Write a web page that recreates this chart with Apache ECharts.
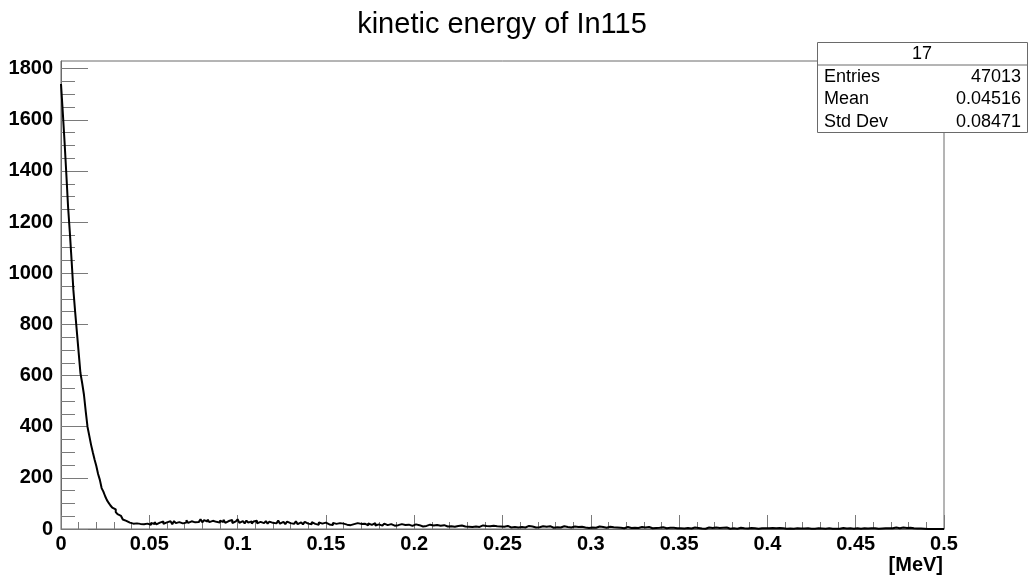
<!DOCTYPE html>
<html>
<head>
<meta charset="utf-8">
<script src="https://cdn.jsdelivr.net/npm/echarts@6/dist/echarts.min.js"></script>
<style>
html,body{margin:0;padding:0;background:#fff;}
#chart{width:1035px;height:581px;}
</style>
</head>
<body>
<div id="chart"></div>
<script>
const chartTitle = "kinetic energy of In115";
const xAxisTitle = "[MeV]";
const xMin = 0, xMax = 0.5, binWidth = 0.001;
const yMin = 0, yMax = 1830;
const yMajorTicks = [0, 200, 400, 600, 800, 1000, 1200, 1400, 1600, 1800];
const yMinorTicks = [50,100,150,250,300,350,450,500,550,650,700,750,850,900,950,1050,1100,1150,1250,1300,1350,1450,1500,1550,1650,1700,1750];
const statsTitle = "17";
const statsLabels = ["Entries", "Mean", "Std Dev"];
const statsValues = ["47013", "0.04516", "0.08471"];

// bin contents, 500 bins of width 0.001 MeV starting at 0
const counts = [
1740,1630,1515,1390,1260,1160,1050,935,850,770,
690,610,570,525,460,400,365,330,300,272,
246,215,192,160,146,128,113,102,92,84,
77,66,58,51,44,37,32,28,25,23,
21,18,22,17,20,15,19,16,21,17,
16,24,19,27,18,25,21,29,20,26,
22,30,24,19,31,23,27,33,22,28,
25,34,24,30,36,26,33,27,31,38,
26,35,29,37,27,32,39,28,34,25,
33,27,36,24,31,28,35,23,30,26,
38,24,31,27,22,33,25,30,21,29,
32,22,28,34,23,27,31,21,29,24,
30,22,26,33,21,28,24,19,29,23,
27,20,25,30,19,26,22,18,28,21,
24,19,27,20,23,17,26,21,18,25,
29,18,22,16,24,20,17,23,19,21,
25,17,20,15,22,19,16,23,18,20,
15,21,18,14,22,16,19,23,14,18,
20,13,17,21,15,12,19,16,13,18,
15,12,19,14,16,11,17,14,12,16,
18,11,15,13,10,16,12,14,17,10,
14,11,16,10,13,9,15,12,10,14,
11,15,9,13,12,8,14,11,10,15,
9,12,8,14,10,12,8,11,14,9,
12,8,11,7,13,9,11,7,10,13,
9,7,12,10,6,11,8,10,6,12,
8,10,6,9,12,7,10,8,6,11,
7,9,11,6,9,7,11,8,5,9,
7,10,6,8,11,5,8,10,6,8,
10,6,8,4,9,7,6,9,4,10,
6,8,5,7,10,4,8,6,5,8,
9,5,7,4,6,9,5,7,3,6,
8,5,4,7,5,9,4,6,8,4,
6,4,8,5,3,7,4,7,5,3,
7,4,3,6,5,2,5,7,3,5,
3,6,2,5,4,7,2,4,6,3,
4,6,2,4,1,5,6,2,4,3,
6,2,4,1,5,3,6,2,1,4,
3,5,1,3,5,1,3,4,2,1,
4,1,3,4,1,5,3,1,3,2,
3,1,4,2,3,1,4,1,3,2,
1,3,2,4,1,2,3,1,2,4,
2,1,3,2,1,4,1,2,3,1,
2,4,1,1,3,2,1,3,1,3,
1,2,4,1,2,1,3,2,1,2,
3,1,1,2,3,4,2,1,3,2,
3,2,1,3,2,4,3,2,3,5,
3,4,6,4,3,5,6,5,4,6,
5,4,3,4,2,3,2,1,1,0,
0,0,0,0,0,0,0,0,0,0
];

const points = counts.map((c, i) => [+(xMin + i * binWidth).toFixed(4), c]);
points.push([xMax, counts[counts.length - 1]]);

const FONT = "Liberation Sans";
const frameColor = "#6a6a6a";
const tickColor = "#7a7a7a";

const chart = echarts.init(document.getElementById('chart'), null, {renderer: 'canvas'});

const boxL = 817, boxR = 1027, boxT = 42, rowH = 22.5;
const graphics = [
  {type:'rect', shape:{x:boxL+0.5, y:boxT+0.5, width:boxR-boxL, height:rowH*4}, style:{fill:'#fff', stroke:frameColor, lineWidth:1}, z:100},
  {type:'line', shape:{x1:boxL, y1:boxT+rowH+0.5, x2:boxR, y2:boxT+rowH+0.5}, style:{stroke:frameColor, lineWidth:1}, z:101},
  {type:'text', x:(boxL+boxR)/2, y:boxT+rowH/2+1, style:{text:statsTitle, font:'18px "'+FONT+'"', fill:'#000', align:'center', verticalAlign:'middle'}, z:102},
  {type:'text', x:943, y:555, style:{text:xAxisTitle, font:'bold 20px "'+FONT+'"', fill:'#000', align:'right', verticalAlign:'top'}, z:102}
];
statsLabels.forEach((lab, i) => {
  const cy = boxT + rowH * (i + 1) + rowH / 2 + 1;
  graphics.push({type:'text', x:boxL+7, y:cy, style:{text:lab, font:'18px "'+FONT+'"', fill:'#000', align:'left', verticalAlign:'middle'}, z:102});
  graphics.push({type:'text', x:boxR-6, y:cy, style:{text:statsValues[i], font:'18px "'+FONT+'"', fill:'#000', align:'right', verticalAlign:'middle'}, z:102});
});

chart.setOption({
  animation: false,
  backgroundColor: '#fff',
  title: {
    text: chartTitle, left: 497, top: 5, textAlign: 'center',
    textStyle: {fontFamily: FONT, fontSize: 29, fontWeight: 'normal', color: '#000'}
  },
  grid: {left: 61, right: 91, top: 61, bottom: 52, show: true, borderColor: frameColor, borderWidth: 1, backgroundColor: 'transparent'},
  xAxis: {
    type: 'value', min: xMin, max: xMax, interval: 0.05,
    axisLine: {show: true, lineStyle: {color: frameColor, width: 1}},
    axisTick: {show: true, inside: true, length: 14, lineStyle: {color: tickColor, width: 1}},
    minorTick: {show: true, splitNumber: 5, length: 7, lineStyle: {color: tickColor, width: 1}},
    splitLine: {show: false},
    axisLabel: {fontFamily: FONT, fontSize: 20, fontWeight: 'bold', color: '#000', margin: 5,
      formatter: v => String(+v.toFixed(2))}
  },
  yAxis: [{
    type: 'value', min: yMin, max: yMax, position: 'left',
    axisLine: {show: true, lineStyle: {color: frameColor, width: 1}},
    axisTick: {show: true, inside: true, length: 27, customValues: yMajorTicks, lineStyle: {color: tickColor, width: 1}},
    axisLabel: {fontFamily: FONT, fontSize: 20, fontWeight: 'bold', color: '#000', margin: 8, customValues: yMajorTicks,
      formatter: v => String(v)},
    splitLine: {show: false}
  }, {
    type: 'value', min: yMin, max: yMax, position: 'left', offset: 0,
    axisLine: {show: false},
    axisTick: {show: true, inside: true, length: 14, customValues: yMinorTicks, lineStyle: {color: tickColor, width: 1}},
    axisLabel: {show: false},
    splitLine: {show: false}
  }],
  graphic: graphics,
  series: [{
    type: 'line', step: 'end', data: points, showSymbol: false, symbol: 'none',
    lineStyle: {color: '#000', width: 2}, z: 5, clip: true
  }]
});
</script>
</body>
</html>
